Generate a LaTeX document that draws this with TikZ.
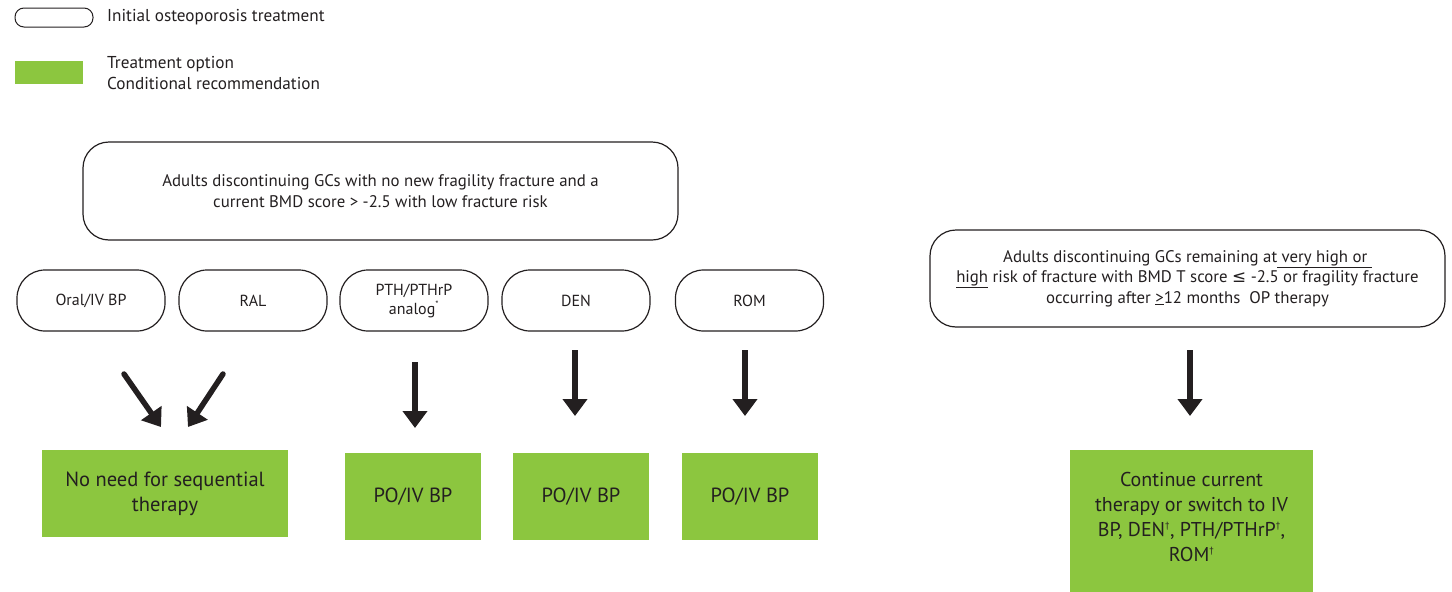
\documentclass[tikz,border=0pt]{standalone}
\usepackage{fontspec}
\setmainfont{PT Sans}
\newfontfamily\symfont{DejaVu Sans}
\usetikzlibrary{arrows.meta}
\definecolor{gr}{HTML}{8CC63F}
\definecolor{tx}{HTML}{231F20}
\newcommand{\dg}{\textsuperscript{\fontsize{9}{9}\selectfont †}}
\tikzset{
  pill/.style={draw=tx, line width=1.2pt, rounded corners=28pt, minimum height=61pt, minimum width=148pt, align=center, font=\fontsize{16}{19}\selectfont, text=tx},
  bigbox/.style={draw=tx, line width=1.2pt, rounded corners=26pt, align=center, font=\fontsize{16.8}{20.5}\selectfont, text=tx},
  grbox/.style={fill=gr, draw=none, align=center, font=\fontsize{20.5}{25}\selectfont, text=tx, inner sep=0pt},
  arr/.style={draw=tx, line width=5.5pt, -{Triangle[length=17pt,width=24pt]}},
  lbl/.style={anchor=west, text=tx, font=\fontsize{17.2}{20.5}\selectfont, align=left, inner sep=0pt}
}
\begin{document}
\begin{tikzpicture}[x=1pt,y=-1pt]
\useasboundingbox (0,0) rectangle (1452,592);
% legend
\node[draw=tx, line width=1pt, rounded corners=9pt, minimum width=78pt, minimum height=19pt, inner sep=0pt] (legpill) at (54,17.5) {};
\node[lbl] (legpilltxt) at (107,17.5) {Initial osteoporosis treatment};
\node[fill=gr, minimum width=68pt, minimum height=23pt, inner sep=0pt] (legbox) at (49,72.5) {};
\node[lbl] (legboxtxt) at (107,73) {Treatment option\\Conditional recommendation};
% big box
\node[bigbox, minimum width=595pt, minimum height=98pt] (top) at (380.5,191) {Adults discontinuing GCs with no new fragility fracture and a\\current BMD score > -2.5 with low fracture risk};
% pills
\node[pill] (oral) at (91,300.5) {Oral/IV BP};
\node[pill] (ral) at (253,300.5) {RAL};
\node[pill] (pth) at (414,300.5) {PTH/PTHrP\\analog\textsuperscript{\fontsize{9}{9}\selectfont *}};
\node[pill] (den) at (576,300.5) {DEN};
\node[pill] (rom) at (749.5,300.5) {ROM};
% right box
\node[bigbox, minimum width=515pt, minimum height=97pt] (right) at (1187.5,278.5) {Adults discontinuing GCs remaining at\underline{ very high or }\\\underline{high} risk of fracture with BMD T score {\symfont ≤} -2.5 or fragility fracture\\occurring after \underline{>}12 months\ \ OP therapy};
% green boxes
\node[grbox, minimum width=246pt, minimum height=87pt] (g1) at (165,493.5) {No need for sequential\\therapy};
\node[grbox, minimum width=136pt, minimum height=87pt] (g2) at (413,496.5) {PO/IV BP};
\node[grbox, minimum width=136pt, minimum height=87pt] (g3) at (581,496.5) {PO/IV BP};
\node[grbox, minimum width=136pt, minimum height=87pt] (g4) at (750,496.5) {PO/IV BP};
\node[grbox, minimum width=243pt, minimum height=145pt, anchor=north] (g5) at (1191.5,450) {};
\node[align=center, text=tx, font=\fontsize{20}{25}\selectfont] (g5txt) at (1191.5,517) {Continue current\\therapy or switch to IV\\BP, DEN\dg, PTH/PTHrP\dg,\\ROM\dg};
% arrows
\coordinate (a1s) at (124,374); \coordinate (a1e) at (161,427);
\coordinate (a2s) at (223,374); \coordinate (a2e) at (188,427);
\coordinate (a3s) at (415,362); \coordinate (a3e) at (415,428);
\coordinate (a4s) at (575,350); \coordinate (a4e) at (575,416);
\coordinate (a5s) at (745,350); \coordinate (a5e) at (745,416);
\coordinate (a6s) at (1190,350); \coordinate (a6e) at (1190,416);
\draw[arr, line cap=round] (a1s) -- (a1e);
\draw[arr, line cap=round] (a2s) -- (a2e);
\draw[arr] (a3s) -- (a3e);
\draw[arr] (a4s) -- (a4e);
\draw[arr] (a5s) -- (a5e);
\draw[arr] (a6s) -- (a6e);
\end{tikzpicture}
\end{document}
